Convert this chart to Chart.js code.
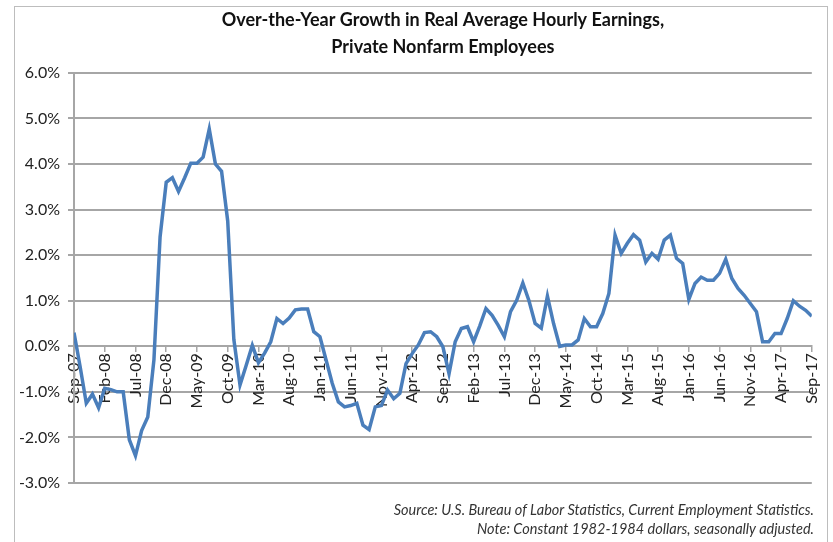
<!DOCTYPE html>
<html>
<head>
<meta charset="utf-8">
<script src="https://cdn.jsdelivr.net/npm/chart.js@4"></script>
<style>
  body { margin: 0; background: #fff; }
  #wrap { position: relative; width: 833px; height: 542px; overflow: hidden; }
  #frame { position: absolute; left: 14px; top: 6px; width: 812px; height: 545px; border: 1px solid #bdbdbd; }
  #earnings { position: absolute; left: 0; top: 0; }
  #notes { position: absolute; right: 19px; top: 500px; font: italic 14.5px Lato, sans-serif; text-align: right; color: #333; line-height: 19px; }
</style>
</head>
<body>
<div id="wrap">
  <div id="frame"></div>
  <canvas id="earnings" width="833" height="542"></canvas>
  <div id="notes">Source: U.S. Bureau of Labor Statistics, Current Employment Statistics.<br>Note: Constant 1982-1984 dollars, seasonally adjusted.</div>
</div>
<script>
// x-axis labels, one every five months starting Sep-07
const tickLabels = ['Sep-07', 'Feb-08', 'Jul-08', 'Dec-08', 'May-09', 'Oct-09', 'Mar-10', 'Aug-10',
    'Jan-11', 'Jun-11', 'Nov-11', 'Apr-12', 'Sep-12', 'Feb-13', 'Jul-13', 'Dec-13', 'May-14',
    'Oct-14', 'Mar-15', 'Aug-15', 'Jan-16', 'Jun-16', 'Nov-16', 'Apr-17', 'Sep-17']

// over-the-year % change, monthly from Sep 2007 to Sep 2017
const growth = [
    0.30, -0.45, -1.25, -1.05,                                                   // 2007
    -1.35, -0.92, -0.95, -1.00, -1.00, -2.05, -2.40, -1.85, -1.55, -0.30, 2.40, 3.60, // 2008
    3.70, 3.40, 3.70, 4.02, 4.02, 4.15, 4.77, 4.00, 3.84, 2.75, 0.15, -0.85,    // 2009
    -0.42, 0.02, -0.36, -0.15, 0.10, 0.61, 0.50, 0.62, 0.80, 0.82, 0.82, 0.32,  // 2010
    0.21, -0.30, -0.81, -1.22, -1.33, -1.30, -1.25, -1.73, -1.83, -1.33, -1.30, -0.96, // 2011
    -1.15, -1.03, -0.38, -0.16, 0.03, 0.30, 0.32, 0.21, -0.01, -0.60, 0.10, 0.39, // 2012
    0.43, 0.10, 0.45, 0.83, 0.68, 0.46, 0.21, 0.76, 1.01, 1.39, 1.00, 0.50,     // 2013
    0.40, 1.10, 0.50, 0.00, 0.03, 0.03, 0.14, 0.61, 0.43, 0.43, 0.72, 1.16,     // 2014
    2.44, 2.04, 2.26, 2.45, 2.33, 1.85, 2.04, 1.91, 2.33, 2.44, 1.93, 1.82,     // 2015
    1.03, 1.38, 1.52, 1.45, 1.45, 1.60, 1.91, 1.49, 1.27, 1.12, 0.94, 0.76,     // 2016
    0.10, 0.10, 0.28, 0.28, 0.61, 1.00, 0.88, 0.79, 0.66                        // 2017
]

const gridGray = '#a6a6a6'
const labelFont = { family: 'Lato', size: 16 }

const earnings = new Chart(document.getElementById('earnings'), {
    type: 'line',
    data: {
        datasets: [{
            data: growth.map((v, i) => ({ x: i, y: v })),
            borderColor: '#4a7ebb',
            borderWidth: 3.5,
            pointRadius: 0,
            tension: 0
        }]
    },
    options: {
        responsive: false,
        animation: false,
        layout: { padding: { left: 14, right: 19, top: 0, bottom: 59 } },
        plugins: {
            legend: { display: false },
            tooltip: { enabled: false },
            title: {
                display: true,
                fullSize: false,
                text: ['Over-the-Year Growth in Real Average Hourly Earnings,', 'Private Nonfarm Employees'],
                color: '#111',
                font: { family: 'Lato', size: 18, weight: 'bold', lineHeight: 1.47 },
                padding: { top: 7, bottom: 13 }
            }
        },
        scales: {
            x: {
                type: 'linear',
                min: 0,
                max: growth.length - 1,
                position: { y: 0 },
                grid: { drawOnChartArea: false, tickLength: 5, color: gridGray, lineWidth: 1.5 },
                border: { color: gridGray, width: 2 },
                ticks: {
                    stepSize: 5,
                    autoSkip: false,
                    minRotation: 90,
                    maxRotation: 90,
                    padding: 2,
                    color: '#222',
                    font: labelFont,
                    callback: v => tickLabels[v / 5]
                }
            },
            y: {
                min: -3,
                max: 6,
                afterFit: scale => { scale.width = 60 },
                grid: { color: gridGray, lineWidth: 2, tickLength: 6 },
                border: { color: gridGray, width: 2 },
                ticks: {
                    stepSize: 1,
                    padding: 8,
                    color: '#222',
                    font: labelFont,
                    callback: v => v.toFixed(1) + '%'
                }
            }
        }
    }
})
</script>
</body>
</html>
